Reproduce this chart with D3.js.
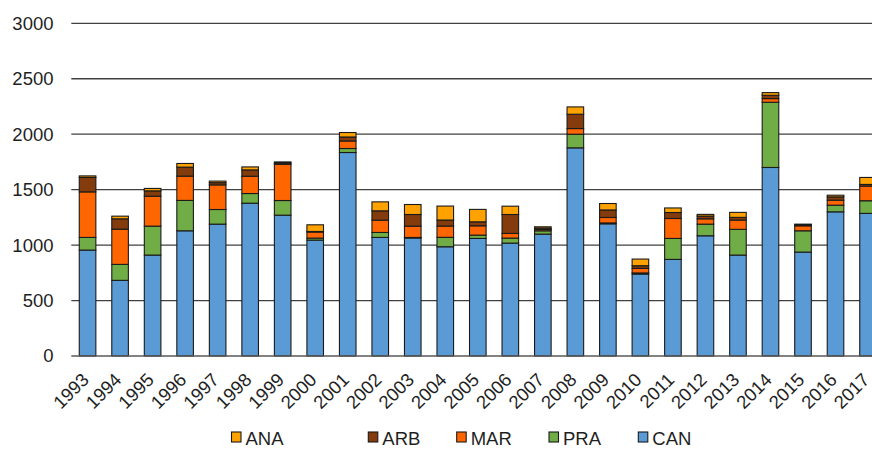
<!DOCTYPE html>
<html><head><meta charset="utf-8">
<script src="https://cdn.jsdelivr.net/npm/d3@7"></script>
<style>
html,body{margin:0;padding:0;background:#fff;overflow:hidden;}
svg{display:block;font-family:"Liberation Sans",Arial,sans-serif;}
</style></head>
<body>
<svg id="chart" width="872" height="449"></svg>
<script>
const years = ["1993","1994","1995","1996","1997","1998","1999","2000","2001","2002","2003","2004","2005","2006","2007","2008","2009","2010","2011","2012","2013","2014","2015","2016","2017"];
const CAN = [955,682,910,1129,1189,1378,1270,1045,1835,1069,1064,985,1060,1018,1099,1877,1192,739,871,1084,910,1700,937,1300,1286];
const PRA = [114,144,261,274,132,87,132,18,36,45,5,85,30,45,30,123,8,10,189,105,232,588,192,60,114];
const MAR = [411,318,270,219,222,156,327,55,68,111,102,102,84,42,12,51,49,41,180,48,84,33,45,45,132];
const ARB = [130,93,48,81,20,57,12,5,36,84,105,54,36,171,12,129,68,24,54,25,24,30,10,30,15];
const ANA = [14,24,22,33,14,27,9,60,40,81,90,126,112,75,12,66,58,60,41,15,45,24,5,15,63];
const yTicks = [0,500,1000,1500,2000,2500,3000];
const stackKeys = ["CAN","PRA","MAR","ARB","ANA"];
const legendKeys = ["ANA","ARB","MAR","PRA","CAN"];

const colors = {ANA:"#FFA200", ARB:"#843C0C", MAR:"#FF6600", PRA:"#70AD47", CAN:"#5B9BD5"};
const seriesData = {CAN, PRA, MAR, ARB, ANA};
const rows = years.map((y,i)=>{ const r={year:y}; stackKeys.forEach(k=>r[k]=seriesData[k][i]); return r; });

const svg = d3.select("#chart");
const left = 71.3, bandStep = 32.52;
const x = d3.scaleBand().domain(years).range([left, left + bandStep*years.length]).paddingInner(0.49).paddingOuter(0.245);
const y = d3.scaleLinear().domain([0,3000]).range([356, 23.3]);

// gridlines
svg.append("g").selectAll("line").data(yTicks.filter(d=>d>0)).join("line")
  .attr("x1", left).attr("x2", 872)
  .attr("y1", d=>y(d)).attr("y2", d=>y(d))
  .attr("stroke", "#404040").attr("stroke-width", 1.3);

// y labels
svg.append("g").selectAll("text").data(yTicks).join("text")
  .attr("x", 53.5).attr("y", d=>y(d)).attr("dy","0.35em")
  .attr("text-anchor","end").attr("font-size", 18.5).attr("fill","#1f1f1f")
  .text(d=>d);

// bars
const stacked = d3.stack().keys(stackKeys)(rows);
svg.append("g").selectAll("g").data(stacked).join("g")
  .attr("fill", d=>colors[d.key])
  .selectAll("rect").data(d=>d).join("rect")
  .attr("x", d=>x(d.data.year)).attr("width", x.bandwidth())
  .attr("y", d=>y(d[1])).attr("height", d=>y(d[0])-y(d[1]))
  .attr("stroke","#1a1a1a").attr("stroke-width",1.1);

// baseline
svg.append("line").attr("x1", left).attr("x2", 872).attr("y1", y(0)).attr("y2", y(0))
  .attr("stroke","#595959").attr("stroke-width",1.5);

// x labels
svg.append("g").selectAll("text").data(years).join("text")
  .attr("transform", d=>`translate(${x(d)+x.bandwidth()/2+2.5},${381}) rotate(-45)`)
  .attr("text-anchor","end").attr("font-size",18.5).attr("fill","#1f1f1f")
  .text(d=>d);

// legend
const legendX = [231.5, 368.3, 456.7, 549, 638.3];
const lg = svg.append("g").selectAll("g").data(legendKeys).join("g")
  .attr("transform",(d,i)=>`translate(${legendX[i]},432)`);
lg.append("rect").attr("width",9.5).attr("height",10).attr("fill",d=>colors[d])
  .attr("stroke","#1a1a1a").attr("stroke-width",1.1);
lg.append("text").attr("x",14).attr("y",12.5).attr("font-size",18.5).attr("fill","#1f1f1f").text(d=>d);
</script>
</body></html>
